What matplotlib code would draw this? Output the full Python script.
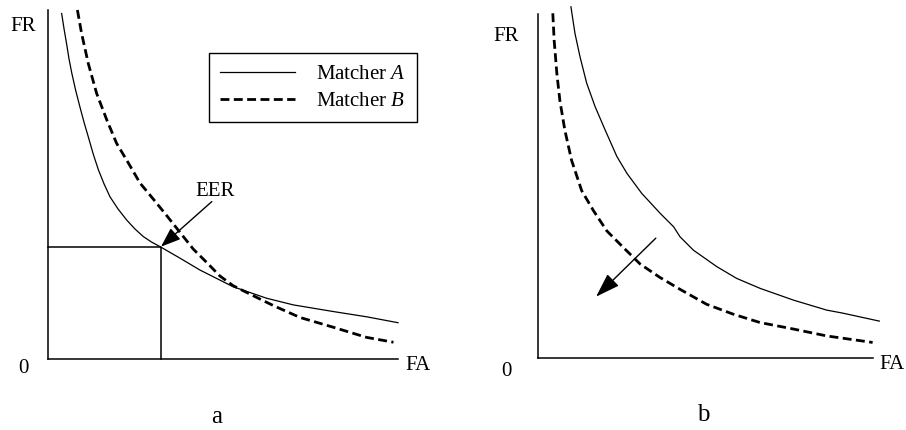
import matplotlib
matplotlib.use("Agg")
import matplotlib.pyplot as plt

plt.rcParams['font.family'] = ['Liberation Serif', 'DejaVu Serif']
plt.rcParams['mathtext.fontset'] = 'custom'
plt.rcParams['mathtext.rm'] = 'Liberation Serif'
plt.rcParams['mathtext.it'] = 'Liberation Serif:italic'

# ---- data (normalised FA / FR) ----
a_A_fa = [0.039, 0.046, 0.053, 0.060, 0.068, 0.079, 0.091, 0.103, 0.115, 0.129, 0.144,
          0.160, 0.177, 0.200, 0.225, 0.248, 0.272, 0.296, 0.320,
          0.377, 0.434, 0.529, 0.625, 0.701, 0.815, 0.910, 1.000]
a_A_fr = [0.990, 0.945, 0.904, 0.860, 0.819, 0.770, 0.723, 0.678, 0.637, 0.588, 0.542,
          0.502, 0.465, 0.430, 0.398, 0.373, 0.351, 0.335, 0.322,
          0.289, 0.255, 0.207, 0.174, 0.155, 0.136, 0.121, 0.104]
a_B_fa = [0.084, 0.096, 0.115, 0.139, 0.168, 0.196, 0.230, 0.263, 0.301, 0.339,
          0.377, 0.415, 0.453, 0.491, 0.529, 0.587, 0.644, 0.720, 0.815, 0.910, 0.987]
a_B_fr = [1.000, 0.933, 0.847, 0.761, 0.685, 0.618, 0.561, 0.504, 0.458, 0.411,
          0.363, 0.315, 0.277, 0.238, 0.210, 0.181, 0.153, 0.119, 0.091, 0.062, 0.048]
eer_point = (0.323, 0.322)
eer_label = (0.468, 0.451)

b_A_fa = [0.099, 0.111, 0.126, 0.146, 0.171, 0.201, 0.236, 0.266, 0.310, 0.365,
          0.405, 0.424, 0.464, 0.534, 0.593, 0.663, 0.762, 0.861, 0.910, 1.018]
b_A_fr = [1.021, 0.944, 0.876, 0.799, 0.731, 0.663, 0.586, 0.537, 0.479, 0.421,
          0.382, 0.353, 0.314, 0.266, 0.232, 0.203, 0.169, 0.140, 0.131, 0.108]
b_B_fa = [0.045, 0.049, 0.057, 0.066, 0.081, 0.101, 0.131, 0.166, 0.206, 0.255,
          0.305, 0.364, 0.423, 0.503, 0.583, 0.662, 0.762, 0.861, 0.998]
b_B_fr = [1.002, 0.924, 0.828, 0.749, 0.662, 0.575, 0.487, 0.429, 0.370, 0.322,
          0.274, 0.235, 0.201, 0.157, 0.128, 0.104, 0.085, 0.065, 0.046]
b_arrow_start = (0.352, 0.349)
b_arrow_end = (0.174, 0.179)

labels = ["Matcher $\\mathit{A}$", "Matcher $\\mathit{B}$"]
panel_names = ["a", "b"]

W, H = 906, 430
fig = plt.figure(figsize=(W / 100, H / 100), dpi=100)

solid_kw = dict(color='black', lw=0.9)
dash_kw = dict(color='black', lw=2.0, linestyle=(0, (3.2, 1.6)))
axis_kw = dict(color='black', lw=1.1)
fs = 15

def make_axes(left_px, width_px, x0px, xscale, y0px, yscale):
    ax = fig.add_axes([left_px / W, 0, width_px / W, 1])
    ax.set_xlim(-(x0px - left_px) / xscale, (left_px + width_px - x0px) / xscale)
    ax.set_ylim(-(H - y0px) / yscale, y0px / yscale)
    ax.axis('off')
    return ax

# ---- panel a ----
axa = make_axes(0, 453, 48, 350, 359, 349)
axa.plot([0, 0], [0, 1.0], **axis_kw)
axa.plot([0, 1.0], [0, 0], **axis_kw)
la, = axa.plot(a_A_fa, a_A_fr, label=labels[0], **solid_kw)
lb, = axa.plot(a_B_fa, a_B_fr, label=labels[1], **dash_kw)
axa.plot([0, eer_point[0], eer_point[0]], [eer_point[1], eer_point[1], 0], color='black', lw=1.1)
axa.annotate("", xy=eer_point, xytext=eer_label,
             arrowprops=dict(arrowstyle='-|>,head_length=1.2,head_width=0.45',
                             color='black', lw=1.0, shrinkA=0, shrinkB=0,
                             mutation_scale=10))
axa.text(0.477, 0.479, "EER", fontsize=fs, ha='center', va='center')
axa.text(-0.072, 0.953, "FR", fontsize=fs, ha='center', va='center')
axa.text(-0.070, -0.027, "0", fontsize=fs, ha='center', va='center')
axa.text(1.057, -0.020, "FA", fontsize=fs, ha='center', va='center')
axa.text(0.483, -0.165, panel_names[0], fontsize=18, ha='center', va='center')
leg = axa.legend(handles=[la, lb], loc='upper left',
                 bbox_to_anchor=(209 / W, 1 - 53 / H), bbox_transform=fig.transFigure,
                 fontsize=fs, frameon=True, fancybox=False, edgecolor='black',
                 framealpha=1, borderaxespad=0, borderpad=0.55, handlelength=3.6,
                 handletextpad=1.0, labelspacing=0.35)
leg.get_frame().set_linewidth(1.0)

# ---- panel b ----
axb = make_axes(453, 453, 537.7, 335.6, 358.3, 344.3)
axb.plot([0, 0], [0, 1.0], **axis_kw)
axb.plot([0, 1.0], [0, 0], **axis_kw)
axb.plot(b_A_fa, b_A_fr, **solid_kw)
axb.plot(b_B_fa, b_B_fr, **dash_kw)
axb.annotate("", xy=b_arrow_end, xytext=b_arrow_start,
             arrowprops=dict(arrowstyle='-|>,head_length=1.5,head_width=0.5',
                             color='black', lw=1.0, shrinkA=0, shrinkB=0,
                             mutation_scale=10))
axb.text(-0.093, 0.936, "FR", fontsize=fs, ha='center', va='center')
axb.text(-0.093, -0.039, "0", fontsize=fs, ha='center', va='center')
axb.text(1.055, -0.019, "FA", fontsize=fs, ha='center', va='center')
axb.text(0.494, -0.165, panel_names[1], fontsize=18, ha='center', va='center')

fig.savefig("out.png", dpi=100)
